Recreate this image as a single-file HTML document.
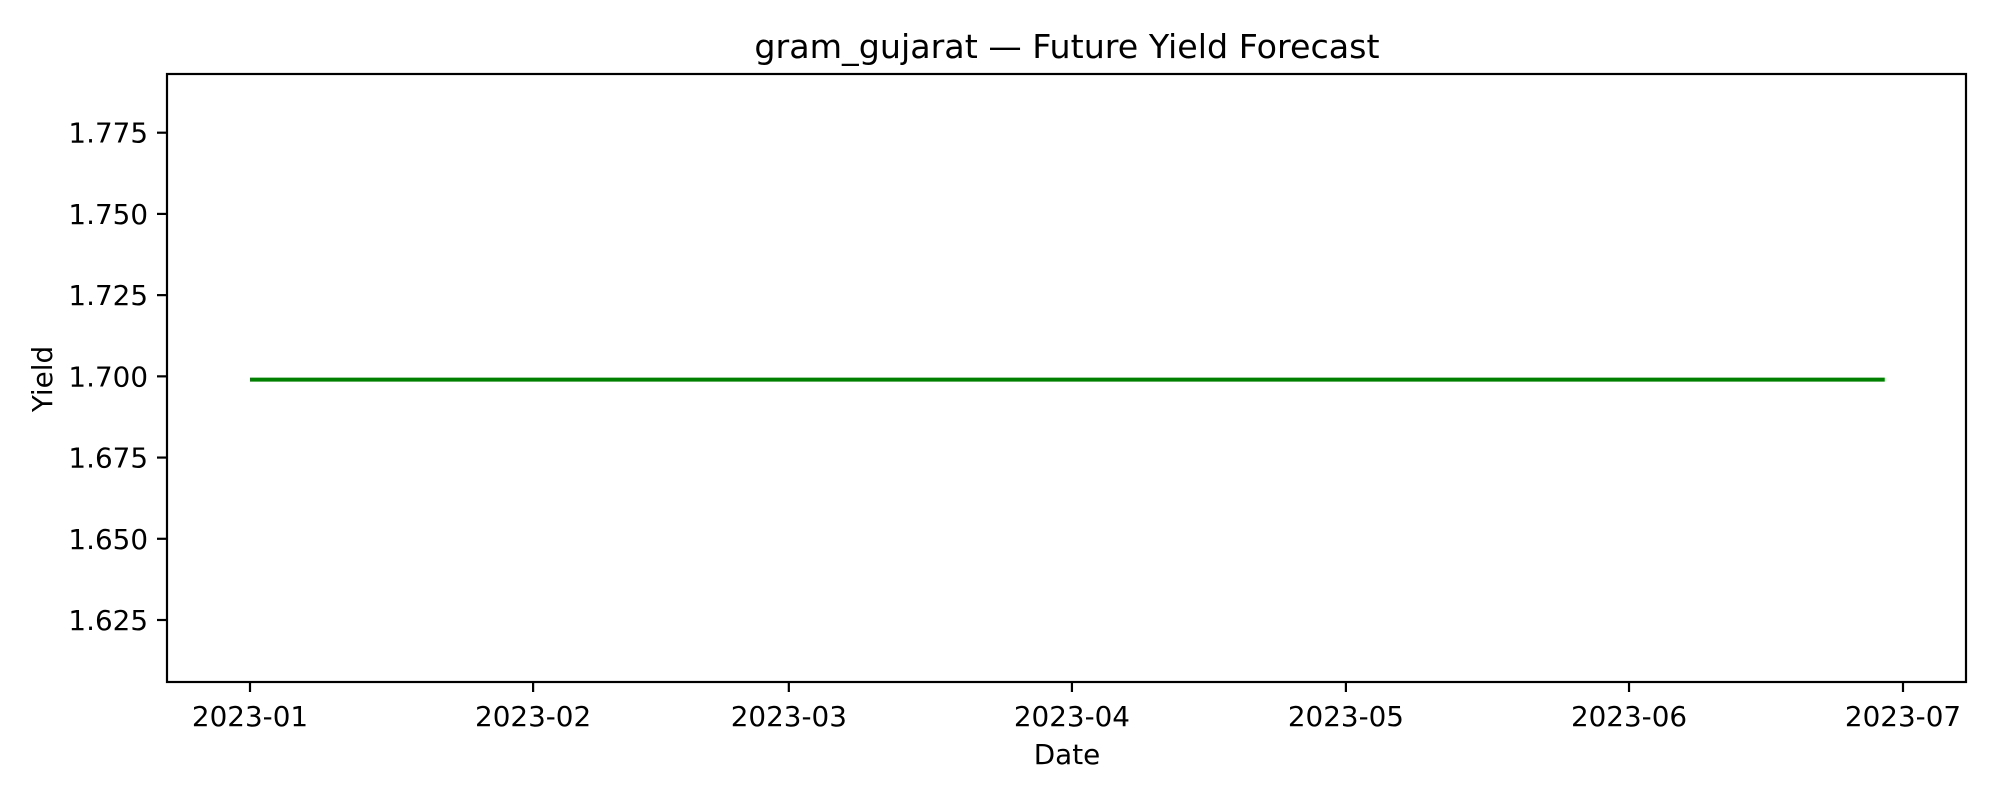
<!DOCTYPE html>
<html><head><meta charset="utf-8"><style>
body{margin:0;background:#fff;}
svg text{font-family:"DejaVu Sans","Liberation Sans",sans-serif;fill:#000;}
</style></head><body>
<svg id="chart" width="2000" height="800" xmlns="http://www.w3.org/2000/svg">
<rect width="2000" height="800" fill="#fff"/>
<text x="1067" y="58" font-size="33.3" text-anchor="middle">gram_gujarat — Future Yield Forecast</text>
<text x="1067" y="764" font-size="27.8" text-anchor="middle">Date</text>
<text transform="translate(52,379) rotate(-90)" font-size="27.8" text-anchor="middle">Yield</text>
<g id="series"></g>
<g id="ticks"></g>
<rect x="167" y="74" width="1799" height="608" fill="none" stroke="#000" stroke-width="2.2"/>
</svg>
<script>
const dates = ["2023-01-01","2023-02-01","2023-03-01","2023-04-01","2023-05-01","2023-06-01","2023-06-29"];
const yields = [1.699,1.699,1.699,1.699,1.699,1.699,1.699];
const xTickLabels = ["2023-01","2023-02","2023-03","2023-04","2023-05","2023-06","2023-07"];
const yTickValues = [1.625,1.650,1.675,1.700,1.725,1.750,1.775];

const NS="http://www.w3.org/2000/svg";
const day = s => Date.parse(s.length===7 ? s+"-01" : s)/86400000;
const d0 = day("2023-01-01"), d1 = day("2023-07-01");
const X = d => 250 + (day(d)-d0)/(d1-d0)*(1903-250);
const Y = v => 132.7 + (1.775-v)/0.15*(620-132.7);

const tg=document.getElementById('ticks');
xTickLabels.forEach(l=>{
  const x=X(l);
  const t=document.createElementNS(NS,'line');
  t.setAttribute('x1',x);t.setAttribute('x2',x);t.setAttribute('y1',682);t.setAttribute('y2',692);t.setAttribute('stroke','#000');t.setAttribute('stroke-width','2.2');
  
  
  tg.appendChild(t);
  const tx=document.createElementNS(NS,'text');
  tx.setAttribute('x',x);tx.setAttribute('y',726);tx.setAttribute('font-size','27.8');tx.setAttribute('text-anchor','middle');
  tx.textContent=l;
  
  
  tg.appendChild(tx);
});
yTickValues.forEach(v=>{
  const y=Y(v);
  const t=document.createElementNS(NS,'line');
  t.setAttribute('x1',157);t.setAttribute('x2',167);t.setAttribute('y1',y);t.setAttribute('y2',y);t.setAttribute('stroke','#000');t.setAttribute('stroke-width','2.2');
  
  
  tg.appendChild(t);
  const tx=document.createElementNS(NS,'text');
  tx.setAttribute('x',148);tx.setAttribute('y',y+10);tx.setAttribute('font-size','27.8');tx.setAttribute('text-anchor','end');
  tx.textContent=v.toFixed(3);
  
  
  tg.appendChild(tx);
});
const p=document.createElementNS(NS,'polyline');
p.setAttribute('points',dates.map((d,i)=>X(d)+','+Y(yields[i])).join(' '));
p.setAttribute('fill','none');p.setAttribute('stroke','#008000');p.setAttribute('stroke-width','4');


document.getElementById('series').appendChild(p);
</script>
</body></html>
